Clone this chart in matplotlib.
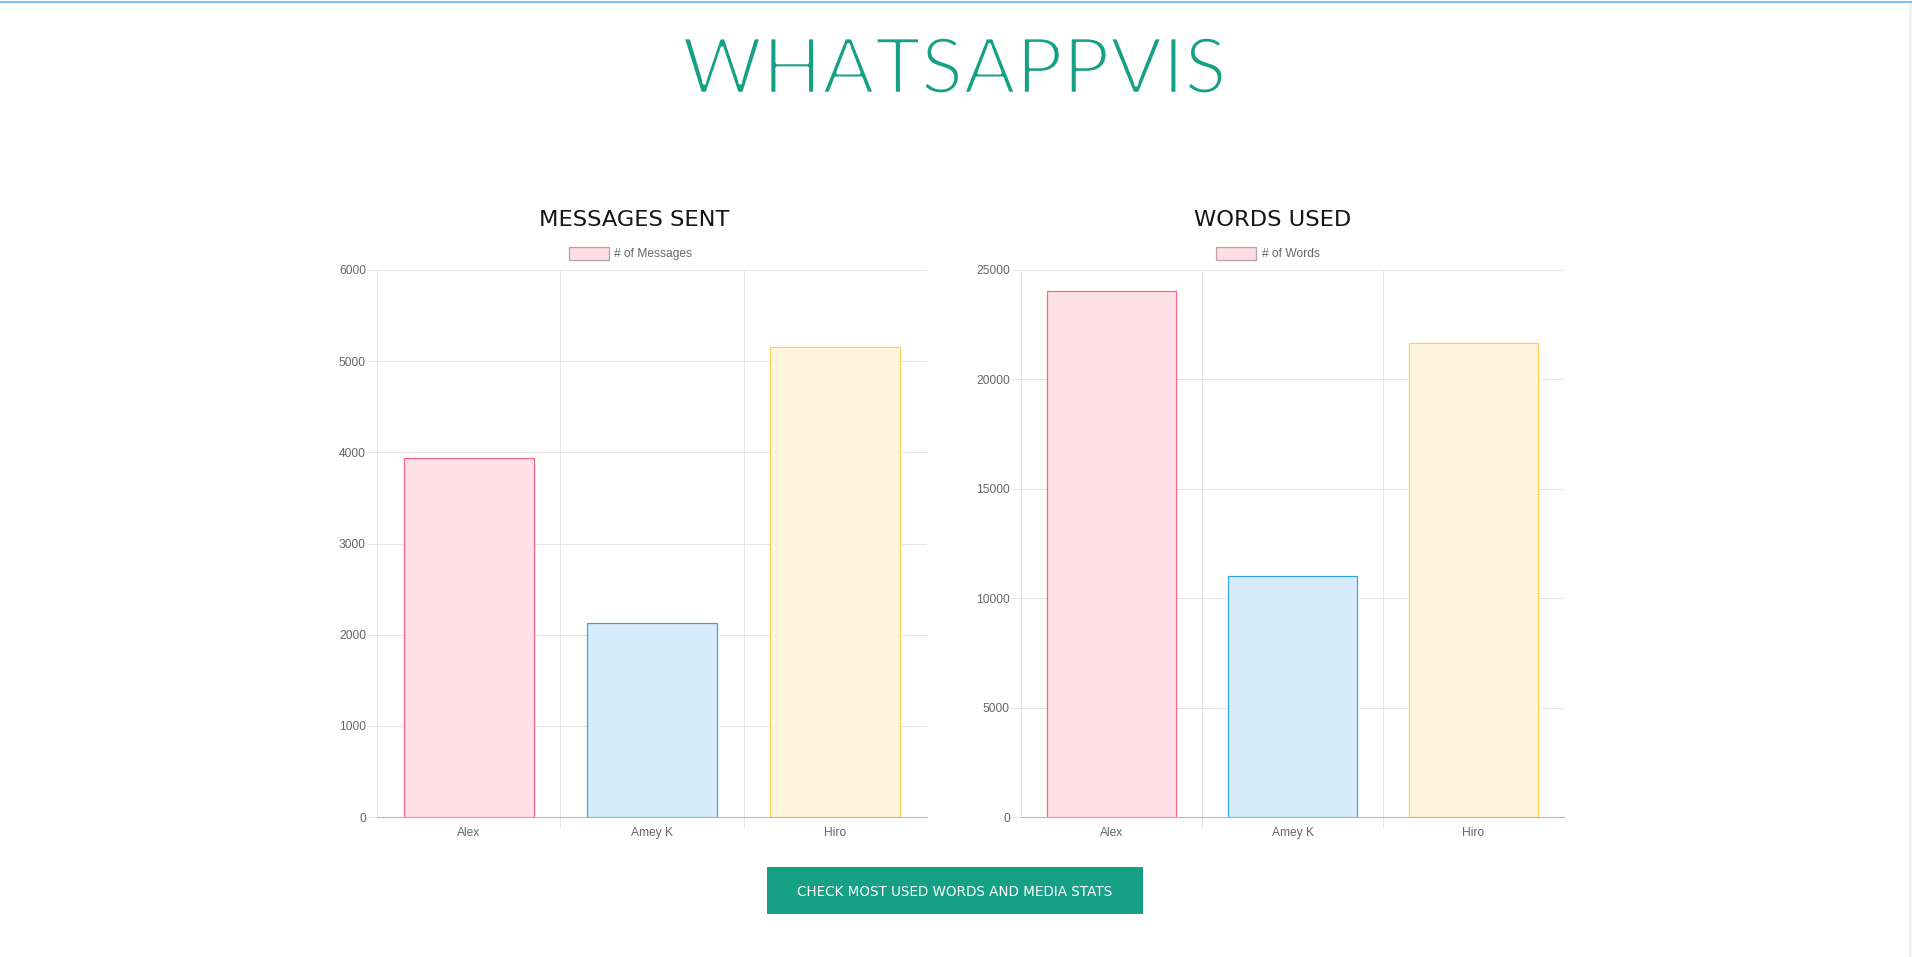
import matplotlib
matplotlib.use("Agg")
import matplotlib.pyplot as plt
from matplotlib.patches import Rectangle
from matplotlib.lines import Line2D
import matplotlib.patheffects as pe

# ---------------- data ----------------
categories = ["Alex", "Amey K", "Hiro"]
messages = [3940, 2125, 5160]
words = [24040, 11030, 21680]
msg_ticks = [0, 1000, 2000, 3000, 4000, 5000, 6000]
word_ticks = [0, 5000, 10000, 15000, 20000, 25000]
page_title = "WHATSAPPVIS"
chart_titles = ["MESSAGES SENT", "WORDS USED"]
legend_labels = ["# of Messages", "# of Words"]
button_label = "CHECK MOST USED WORDS AND MEDIA STATS"

fills = ["#ffe0e6", "#d7ecfb", "#fff5dd"]
borders = ["#ff6384", "#36a2eb", "#ffce56"]

W, H = 1912, 957
DPI = 100
fig = plt.figure(figsize=(W / DPI, H / DPI), dpi=DPI)
fig.patch.set_facecolor("white")

def fx(x):
    return x / W

def fy(y):
    return 1 - y / H

def pt(px):
    return px * 72.0 / DPI

GRID = "#e6e6e6"
TICKC = "#666666"
TICKFONT = "Liberation Sans"

def make_chart(left, right, top, bottom, values, ticks, title, tcx, legend_label, box_x, text_x):
    ax = fig.add_axes([fx(left), fy(bottom), fx(right - left), (bottom - top) / H])
    x = list(range(len(categories)))
    ax.bar(x, values, width=0.71, color=fills, edgecolor=borders, linewidth=pt(1.2), zorder=3)
    ax.set_xlim(-0.5, len(categories) - 0.5)
    ax.set_ylim(ticks[0], ticks[-1])
    ax.set_yticks(ticks)
    ax.set_yticklabels([str(t) for t in ticks], fontfamily=TICKFONT, fontsize=pt(12), color=TICKC)
    ax.set_xticks(x)
    ax.set_xticklabels(categories, fontfamily=TICKFONT, fontsize=pt(12), color=TICKC)
    ax.set_xticks([i + 0.5 for i in x[:-1]], minor=True)
    ax.tick_params(axis="y", which="major", length=pt(10), width=pt(1), color=GRID, pad=0.8)
    ax.tick_params(axis="x", which="major", length=0, pad=pt(10))
    ax.tick_params(axis="x", which="minor", length=pt(10), width=pt(1), color=GRID)
    ax.grid(axis="y", which="major", color=GRID, linewidth=pt(1))
    ax.grid(axis="x", which="minor", color=GRID, linewidth=pt(1))
    ax.set_axisbelow(True)
    for s in ["top", "right"]:
        ax.spines[s].set_visible(False)
    ax.spines["left"].set_color(GRID)
    ax.spines["left"].set_linewidth(pt(1))
    ax.spines["bottom"].set_color("#b3b3b3")
    ax.spines["bottom"].set_linewidth(pt(1))
    ax.spines["bottom"].set_zorder(4)

    fig.text(fx(tcx), fy(219.5), title, ha="center", va="center",
             fontfamily="DejaVu Sans", fontsize=pt(22.5), color="#141414")
    fig.patches.append(Rectangle((fx(box_x), fy(260)), fx(40), 12.5 / H,
                                 transform=fig.transFigure, facecolor="#ffdde4",
                                 edgecolor="#b7a3a8", linewidth=pt(1.3)))
    fig.text(fx(text_x), fy(254), legend_label, ha="left", va="center",
             fontfamily=TICKFONT, fontsize=pt(12), color=TICKC)
    return ax

make_chart(377, 927, 270, 817, messages, msg_ticks, chart_titles[0], 634.5,
           legend_labels[0], 568.5, 614.5)
make_chart(1021, 1564, 270, 817, words, word_ticks, chart_titles[1], 1273,
           legend_labels[1], 1216, 1262)

# page title (thinned with a white outline to mimic a light weight)
fig.text(fx(954), fy(72), page_title, ha="center", va="center",
         fontfamily="Lato", fontweight="normal", fontsize=pt(78), color="#16a085",
         path_effects=[pe.Normal(), pe.Stroke(linewidth=pt(3.5), foreground="white")])

# top blue line
fig.lines.append(Line2D([0, 1], [fy(1.5), fy(1.5)], transform=fig.transFigure,
                        color="#7cc0ec", linewidth=pt(2)))
# scrollbar strip
fig.patches.append(Rectangle((fx(1909), 0), fx(3), 1, transform=fig.transFigure,
                             facecolor="#f1f1f1", edgecolor="none"))

# button
fig.patches.append(Rectangle((fx(767), fy(913.5)), fx(375.5), 46.5 / H,
                             transform=fig.transFigure, facecolor="#16a085",
                             edgecolor="none"))
fig.text(fx(955), fy(891.5), button_label, ha="center", va="center",
         fontfamily="DejaVu Sans", fontsize=pt(13.5), color="white")

fig.savefig("out.png", dpi=DPI, facecolor="white")
